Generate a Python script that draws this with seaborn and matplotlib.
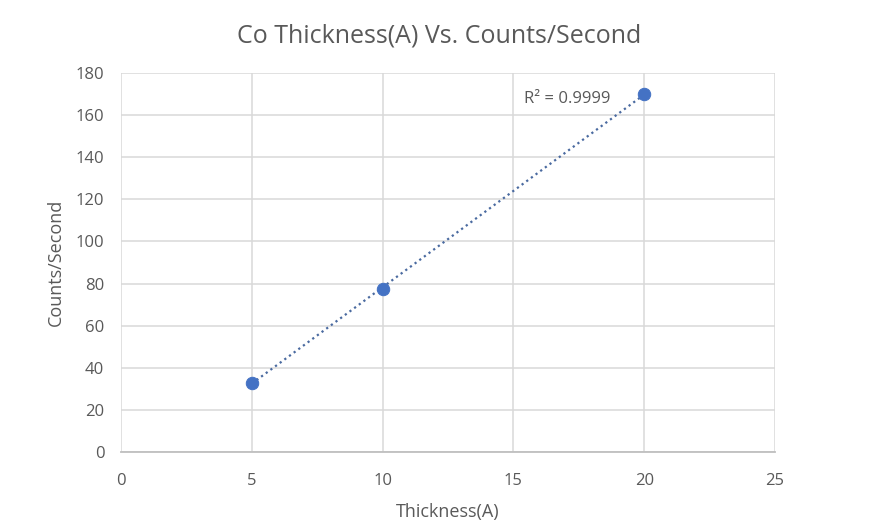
import numpy as np
import pandas as pd
import seaborn as sns
import matplotlib.pyplot as plt

thickness = [5, 10, 20]
counts = [33, 77.5, 170]

df = pd.DataFrame({'Thickness(A)': thickness, 'Counts/Second': counts})

# linear trendline + R^2
slope, intercept = np.polyfit(df['Thickness(A)'], df['Counts/Second'], 1)
pred = slope * df['Thickness(A)'] + intercept
r2 = 1 - ((df['Counts/Second'] - pred) ** 2).sum() / ((df['Counts/Second'] - df['Counts/Second'].mean()) ** 2).sum()
trend = pd.DataFrame({'x': [min(thickness), max(thickness)]})
trend['y'] = slope * trend['x'] + intercept

sns.set_style("white")
plt.rcParams['font.family'] = ['Open Sans', 'DejaVu Sans']
text_col = '#595959'

fig = plt.figure(figsize=(8.79, 5.27), dpi=100)
ax = fig.add_axes([0.1377, 0.1423, 0.744, 0.7192])

sns.lineplot(x='x', y='y', data=trend, ax=ax, color='#4a6aa0', linestyle=(0, (1, 1.6)),
             linewidth=1.6, zorder=2)
sns.scatterplot(x='Thickness(A)', y='Counts/Second', data=df, ax=ax, color='#4472C4',
                s=80, edgecolor='#4472C4', zorder=3)

ax.set_xlim(0, 25)
ax.set_ylim(0, 180)
ax.set_xticks(range(0, 26, 5))
ax.set_yticks(range(0, 181, 20))
ax.grid(True, color='#d9d9d9', linewidth=1.1)
ax.set_axisbelow(True)
for s in ['top', 'right', 'left']:
    ax.spines[s].set_visible(False)
ax.spines['bottom'].set_color('#bfbfbf')
ax.spines['bottom'].set_linewidth(1.3)
ax.tick_params(axis='both', length=0, labelsize=12, colors=text_col)
ax.tick_params(axis='y', pad=12)
ax.tick_params(axis='x', pad=15)

ax.set_xlabel('Thickness(A)', fontsize=13, color=text_col, labelpad=10)
ax.set_ylabel('Counts/Second', fontsize=13, color=text_col, labelpad=8)
fig.suptitle('Co Thickness(A) Vs. Counts/Second', fontsize=18, color=text_col, y=0.955)

ax.text(15.4, 167.5, f'R² = {r2:.4f}', fontsize=12, color=text_col, va='center')

plt.savefig('out.png', dpi=100)
